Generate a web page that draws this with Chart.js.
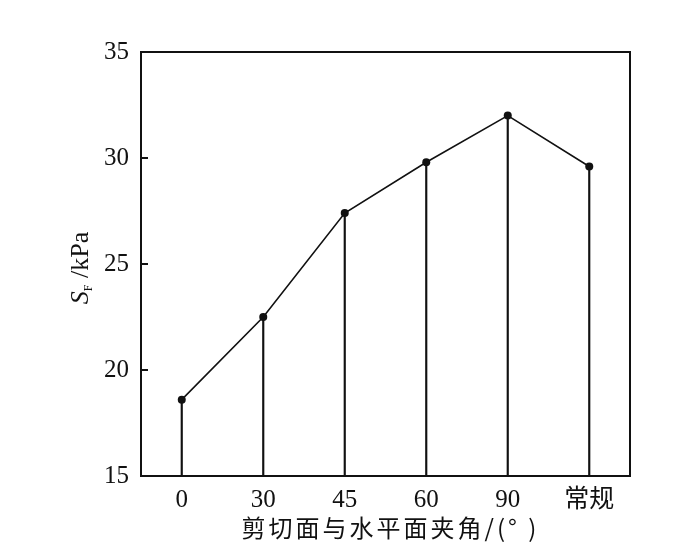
<!DOCTYPE html>
<html><head><meta charset="utf-8">
<script src="https://cdn.jsdelivr.net/npm/chart.js@4"></script>
<style>html,body{margin:0;padding:0;background:#fff}#wrap{width:700px;height:560px}</style>
</head><body><div id="wrap"><canvas id="c" width="700" height="560"></canvas></div>
<script>
const categories = ['0', '30', '45', '60', '90', '常规'];
const sfValues = [18.6, 22.5, 27.4, 29.8, 32.0, 29.6];
const yTicks = [15, 20, 25, 30, 35];
const xTitle = '剪切面与水平面夹角/(° )';
const yTitleMain = 'S';
const yTitleSub = 'F';
const yTitleUnit = ' /kPa';

const FONT = '"Liberation Serif", "Noto Sans CJK SC", serif';

const framePlugin = {
  id: 'frame',
  afterDraw(chart) {
    const {ctx, chartArea: a, scales} = chart;
    ctx.save();
    ctx.strokeStyle = '#111';
    ctx.lineWidth = 2;
    ctx.strokeRect(a.left, a.top, a.right - a.left, a.bottom - a.top);
    // inward y ticks
    ctx.beginPath();
    yTicks.forEach(v => {
      const y = scales.y.getPixelForValue(v);
      ctx.moveTo(a.left, y);
      ctx.lineTo(a.left + 7, y);
    });
    ctx.stroke();
    // x title
    ctx.fillStyle = '#111';
    ctx.font = '24px "Noto Sans CJK SC", "Liberation Serif", serif';
    ctx.textAlign = 'center';
    ctx.textBaseline = 'middle';
    ctx.letterSpacing = '3px';
    ctx.fillText(xTitle, (a.left + a.right) / 2 + 5, 528);
    ctx.letterSpacing = '0px';
    // y title rotated
    ctx.translate(79, 268);
    ctx.rotate(-Math.PI / 2);
    ctx.textAlign = 'left';
    ctx.textBaseline = 'alphabetic';
    ctx.font = 'italic 26px "Liberation Serif", serif';
    const w1 = ctx.measureText(yTitleMain).width;
    ctx.font = '12px "Liberation Serif", serif';
    const w2 = ctx.measureText(yTitleSub).width;
    ctx.font = '26px "Liberation Serif", serif';
    const w3 = ctx.measureText(yTitleUnit).width;
    let x = -(w1 + w2 + w3) / 2;
    ctx.font = 'italic 26px "Liberation Serif", serif';
    ctx.fillText(yTitleMain, x, 9); x += w1;
    ctx.font = '12px "Liberation Serif", serif';
    ctx.fillText(yTitleSub, x, 13); x += w2;
    ctx.font = '26px "Liberation Serif", serif';
    ctx.fillText(yTitleUnit, x, 9);
    ctx.restore();
  }
};

new Chart(document.getElementById('c'), {
  type: 'bar',
  data: {
    labels: categories,
    datasets: [
      {
        type: 'line',
        data: sfValues,
        borderColor: '#111',
        backgroundColor: '#111',
        borderWidth: 1.6,
        pointRadius: 4,
        pointBorderWidth: 0,
        pointBackgroundColor: '#111',
        tension: 0,
        order: 0
      },
      {
        type: 'bar',
        data: sfValues,
        backgroundColor: '#111',
        barThickness: 1.5,
        order: 1
      }
    ]
  },
  options: {
    responsive: false,
    animation: false,
    layout: {padding: {left: 81, right: 70, top: 52, bottom: 0}},
    plugins: {legend: {display: false}, tooltip: {enabled: false}},
    scales: {
      x: {
        offset: true,
        grid: {display: false, drawTicks: false},
        border: {display: false},
        ticks: {color: '#111', font: {family: FONT, size: 25}, padding: 9, maxRotation: 0},
        afterFit: s => { s.height = 84; }
      },
      y: {
        min: 15, max: 35,
        grid: {display: false, drawTicks: false},
        border: {display: false},
        ticks: {stepSize: 5, color: '#111', font: {family: FONT, size: 25}, padding: 12},
        afterFit: s => { s.width = 60; }
      }
    }
  },
  plugins: [framePlugin]
});
</script>
</body></html>
